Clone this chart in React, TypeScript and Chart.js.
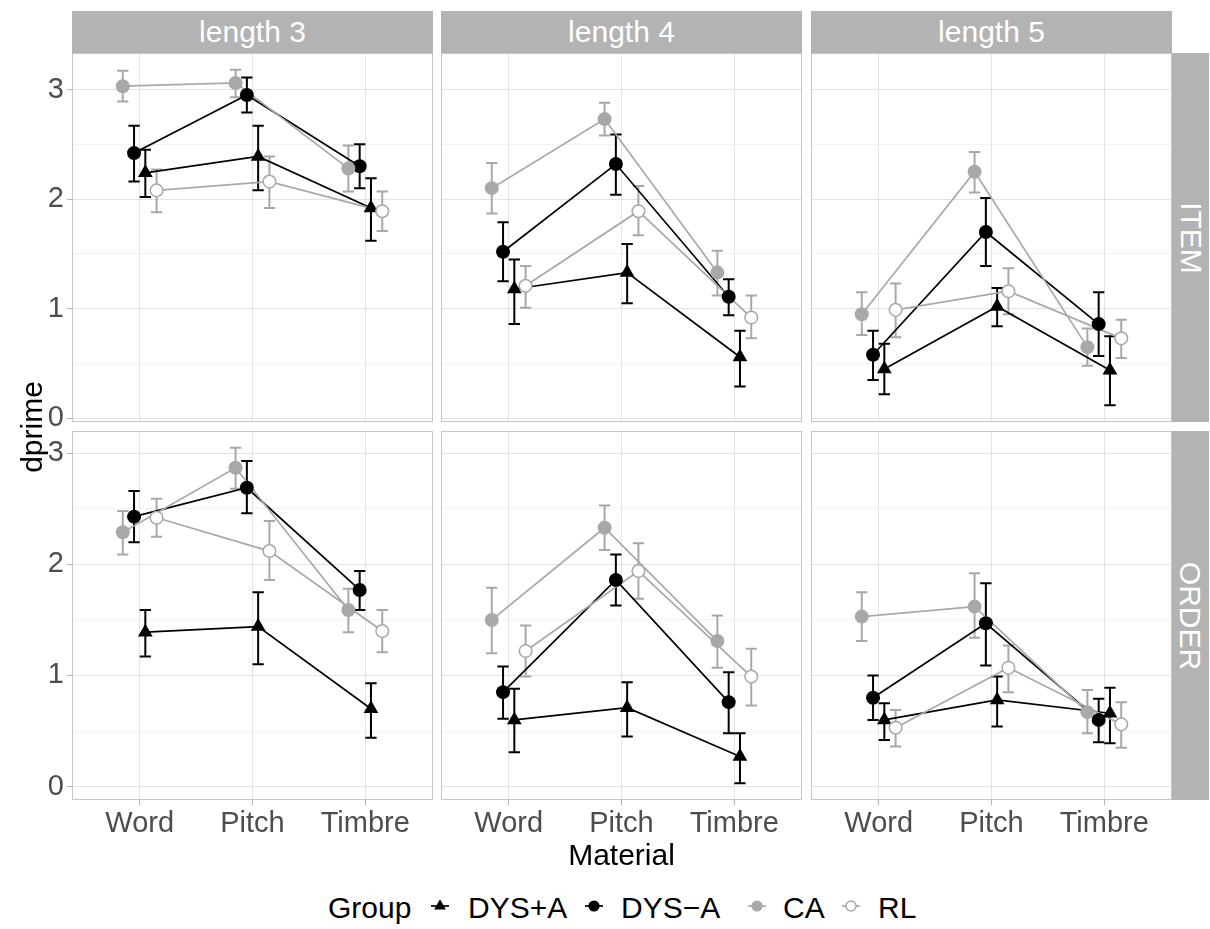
import React, { useEffect, useRef } from "react";
import { Chart, registerables } from "chart.js";

Chart.register(...registerables);

// ---------- labels ----------
const materials = ["Word", "Pitch", "Timbre"];
const lengthLabels = ["length 3", "length 4", "length 5"];
const taskLabels = ["ITEM", "ORDER"];
const groupLabels = ["DYS+A", "DYS\u2212A", "CA", "RL"];
const yTickValues = [0, 0.5, 1, 1.5, 2, 2.5, 3];
const yTickLabels = ["0", "", "1", "", "2", "", "3"];

// ---------- data: [length 3, length 4, length 5] x [Word, Pitch, Timbre] ----------
// ITEM task
const itemDysPlusMean = [[2.24, 2.39, 1.92], [1.18, 1.33, 0.56], [0.45, 1.02, 0.44]];
const itemDysPlusLow = [[2.02, 2.08, 1.62], [0.86, 1.05, 0.29], [0.22, 0.84, 0.12]];
const itemDysPlusHigh = [[2.45, 2.67, 2.19], [1.45, 1.59, 0.80], [0.68, 1.19, 0.75]];

const itemDysMinusMean = [[2.42, 2.95, 2.30], [1.52, 2.32, 1.11], [0.58, 1.70, 0.86]];
const itemDysMinusLow = [[2.16, 2.79, 2.10], [1.25, 2.04, 0.94], [0.35, 1.39, 0.57]];
const itemDysMinusHigh = [[2.67, 3.11, 2.50], [1.79, 2.59, 1.27], [0.80, 2.01, 1.15]];

const itemCaMean = [[3.03, 3.06, 2.28], [2.10, 2.73, 1.33], [0.95, 2.25, 0.65]];
const itemCaLow = [[2.89, 2.93, 2.07], [1.87, 2.58, 1.12], [0.76, 2.06, 0.48]];
const itemCaHigh = [[3.17, 3.18, 2.49], [2.33, 2.88, 1.53], [1.15, 2.43, 0.82]];

const itemRlMean = [[2.08, 2.16, 1.89], [1.21, 1.89, 0.92], [0.99, 1.16, 0.73]];
const itemRlLow = [[1.88, 1.92, 1.71], [1.01, 1.67, 0.73], [0.74, 0.95, 0.55]];
const itemRlHigh = [[2.27, 2.39, 2.07], [1.39, 2.12, 1.12], [1.23, 1.37, 0.90]];

// ORDER task
const orderDysPlusMean = [[1.39, 1.44, 0.70], [0.60, 0.71, 0.27], [0.60, 0.78, 0.66]];
const orderDysPlusLow = [[1.17, 1.10, 0.44], [0.31, 0.45, 0.03], [0.42, 0.54, 0.39]];
const orderDysPlusHigh = [[1.59, 1.75, 0.93], [0.88, 0.94, 0.48], [0.75, 0.99, 0.89]];

const orderDysMinusMean = [[2.43, 2.69, 1.77], [0.85, 1.86, 0.76], [0.80, 1.47, 0.60]];
const orderDysMinusLow = [[2.20, 2.46, 1.59], [0.61, 1.63, 0.48], [0.60, 1.09, 0.40]];
const orderDysMinusHigh = [[2.66, 2.93, 1.94], [1.08, 2.09, 1.03], [1.00, 1.83, 0.79]];

const orderCaMean = [[2.29, 2.87, 1.59], [1.50, 2.33, 1.31], [1.53, 1.62, 0.67]];
const orderCaLow = [[2.09, 2.68, 1.39], [1.20, 2.13, 1.07], [1.31, 1.34, 0.48]];
const orderCaHigh = [[2.48, 3.05, 1.78], [1.79, 2.53, 1.54], [1.75, 1.92, 0.87]];

const orderRlMean = [[2.42, 2.12, 1.40], [1.22, 1.94, 0.99], [0.53, 1.07, 0.56]];
const orderRlLow = [[2.25, 1.86, 1.21], [0.99, 1.69, 0.73], [0.36, 0.85, 0.35]];
const orderRlHigh = [[2.59, 2.39, 1.59], [1.45, 2.19, 1.24], [0.69, 1.27, 0.76]];

// [task][group][length][material]
const means = [
  [itemDysPlusMean, itemDysMinusMean, itemCaMean, itemRlMean],
  [orderDysPlusMean, orderDysMinusMean, orderCaMean, orderRlMean],
];
const lows = [
  [itemDysPlusLow, itemDysMinusLow, itemCaLow, itemRlLow],
  [orderDysPlusLow, orderDysMinusLow, orderCaLow, orderRlLow],
];
const highs = [
  [itemDysPlusHigh, itemDysMinusHigh, itemCaHigh, itemRlHigh],
  [orderDysPlusHigh, orderDysMinusHigh, orderCaHigh, orderRlHigh],
];

// ---------- layout / style ----------
const PANEL_W = 361;
const PANEL_H = 369;
const COL_LEFT = [72, 441, 811];
const ROW_TOP = [53, 431];
const PAD = 26;
const AXIS_W = 40;
const AXIS_H = 42;
const CAP = 0.05;
const GREY = "#a8a8a8";
const FONT = '"Liberation Sans", Arial, Helvetica, sans-serif';

const groupStyles = [
  { line: "#000000", fill: "#000000", border: "#000000", shape: "triangle", radius: 8.5, borderWidth: 0, dodge: 0.05 },
  { line: "#000000", fill: "#000000", border: "#000000", shape: "circle", radius: 7, borderWidth: 0, dodge: -0.05 },
  { line: GREY, fill: GREY, border: GREY, shape: "circle", radius: 7, borderWidth: 0, dodge: -0.15 },
  { line: GREY, fill: "#ffffff", border: GREY, shape: "circle", radius: 6.3, borderWidth: 1.5, dodge: 0.15 },
];

function rowRange(r: number): [number, number] {
  let lo = Infinity;
  let hi = -Infinity;
  lows[r].forEach((g) => g.forEach((l) => l.forEach((v) => (lo = Math.min(lo, v)))));
  highs[r].forEach((g) => g.forEach((l) => l.forEach((v) => (hi = Math.max(hi, v)))));
  const ext = (hi - lo) * 0.05;
  return [lo - ext, hi + ext];
}

const borderPlugin = {
  id: "panelBorder",
  afterDraw(chart: any) {
    const { ctx, chartArea: a } = chart;
    ctx.save();
    ctx.strokeStyle = "#c6c6c6";
    ctx.lineWidth = 1;
    ctx.strokeRect(a.left + 0.5, a.top + 0.5, a.width - 1, a.height - 1);
    ctx.restore();
  },
};

function Panel({ r, c }: { r: number; c: number }) {
  const ref = useRef<HTMLCanvasElement>(null);
  const extraL = c === 0 ? AXIS_W : 0;
  const extraB = r === 1 ? AXIS_H : 0;
  const w = PANEL_W + 2 * PAD + extraL;
  const h = PANEL_H + 2 * PAD + extraB;
  const left = COL_LEFT[c] - PAD - extraL;
  const top = ROW_TOP[r] - PAD;

  useEffect(() => {
    if (!ref.current) return;
    const datasets: any[] = [];
    for (let g = 0; g < groupLabels.length; g++) {
      const st = groupStyles[g];
      const mean = means[r][g][c];
      const lo = lows[r][g][c];
      const hi = highs[r][g][c];
      const pts = materials.map((_, i) => ({ x: i + 1 + st.dodge, y: mean[i] }));
      const err: any[] = [];
      materials.forEach((_, i) => {
        const x = i + 1 + st.dodge;
        err.push(
          { x, y: lo[i] }, { x, y: hi[i] }, { x, y: null },
          { x: x - CAP, y: lo[i] }, { x: x + CAP, y: lo[i] }, { x, y: null },
          { x: x - CAP, y: hi[i] }, { x: x + CAP, y: hi[i] }, { x, y: null }
        );
      });
      datasets.push({
        label: groupLabels[g] + " error",
        data: err,
        borderColor: st.line,
        borderWidth: 2,
        pointRadius: 0,
        spanGaps: false,
        fill: false,
        order: 200 + (3 - g),
      });
      datasets.push({
        label: groupLabels[g] + " line",
        data: pts,
        borderColor: st.line,
        borderWidth: 1.7,
        pointRadius: 0,
        fill: false,
        order: 100 + (3 - g),
      });
      datasets.push({
        label: groupLabels[g],
        data: pts,
        showLine: false,
        pointStyle: st.shape,
        pointRadius: st.radius,
        pointBackgroundColor: st.fill,
        pointBorderColor: st.border,
        pointBorderWidth: st.borderWidth,
        order: 3 - g,
      });
    }
    const [ymin, ymax] = rowRange(r);
    const chart = new Chart(ref.current, {
      type: "line",
      data: { datasets },
      plugins: [borderPlugin],
      options: {
        responsive: false,
        maintainAspectRatio: false,
        devicePixelRatio: 1,
        animation: false,
        layout: { padding: PAD },
        plugins: { legend: { display: false }, tooltip: { enabled: false }, title: { display: false } },
        scales: {
          x: {
            type: "linear",
            min: 0.4,
            max: 3.6,
            afterBuildTicks: (s: any) => {
              s.ticks = materials.map((_, i) => ({ value: i + 1 }));
            },
            afterFit: (s: any) => {
              s.height = r === 1 ? AXIS_H : 0;
            },
            ticks: {
              display: r === 1,
              autoSkip: false,
              maxRotation: 0,
              padding: 2,
              color: "#4d4d4d",
              font: { family: FONT, size: 29 },
              callback: (_v: any, i: number) => materials[i],
            },
            grid: {
              color: "#e3e3e3",
              lineWidth: 1,
              drawTicks: r === 1,
              tickLength: 5,
              tickColor: "#b3b3b3",
            },
            border: { display: false },
          },
          y: {
            type: "linear",
            min: ymin,
            max: ymax,
            afterBuildTicks: (s: any) => {
              s.ticks = yTickValues.map((v) => ({ value: v }));
            },
            afterFit: (s: any) => {
              s.width = c === 0 ? AXIS_W : 0;
            },
            ticks: {
              display: c === 0,
              autoSkip: false,
              padding: 3,
              color: "#4d4d4d",
              font: { family: FONT, size: 29 },
              callback: (_v: any, i: number) => yTickLabels[i],
            },
            grid: {
              color: (ctx: any) => (Number.isInteger(ctx.tick?.value) ? "#e3e3e3" : "#f2f2f2"),
              lineWidth: 1,
              drawTicks: c === 0,
              tickLength: 5,
              tickColor: (ctx: any) => (Number.isInteger(ctx.tick?.value) ? "#b3b3b3" : "rgba(0,0,0,0)"),
            },
            border: { display: false },
          },
        },
      } as any,
    });
    return () => chart.destroy();
  }, [r, c]);

  return (
    <canvas
      ref={ref}
      width={w}
      height={h}
      style={{ position: "absolute", left, top, width: w, height: h }}
    />
  );
}

function LegendKey({ g, cx }: { g: number; cx: number }) {
  const st = groupStyles[g];
  const cy = 906;
  const size = 24;
  const k = 0.8;
  let sym: React.ReactNode;
  if (st.shape === "triangle") {
    const rr = st.radius * k;
    const pts = [0, 1, 2]
      .map((j) => {
        const a = (j * 2 * Math.PI) / 3;
        return `${12 + Math.sin(a) * rr},${12 - Math.cos(a) * rr}`;
      })
      .join(" ");
    sym = <polygon points={pts} fill={st.fill} />;
  } else {
    sym = (
      <circle
        cx={12}
        cy={12}
        r={st.radius * k}
        fill={st.fill}
        stroke={st.borderWidth > 0 ? st.border : "none"}
        strokeWidth={st.borderWidth}
      />
    );
  }
  return (
    <svg
      width={size}
      height={size}
      style={{ position: "absolute", left: cx - size / 2, top: cy - size / 2 }}
    >
      <line x1={3} y1={12} x2={21} y2={12} stroke={st.line} strokeWidth={1.7} />
      {sym}
    </svg>
  );
}

export default function App() {
  const textBase: React.CSSProperties = {
    position: "absolute",
    fontFamily: FONT,
    fontSize: 30,
    lineHeight: "30px",
    whiteSpace: "nowrap",
  };
  const legendTextLeft = [468, 621, 783, 878];
  const legendKeyX = [440, 594, 757, 851];
  return (
    <div
      style={{
        position: "absolute",
        left: 0,
        top: 0,
        width: 1210,
        height: 929,
        background: "#ffffff",
        overflow: "hidden",
      }}
    >
      {/* top strips */}
      {lengthLabels.map((lab, c) => (
        <div
          key={lab}
          style={{
            ...textBase,
            left: COL_LEFT[c],
            top: 11,
            width: PANEL_W,
            height: 42,
            background: "#b3b3b3",
            color: "#ffffff",
            display: "flex",
            alignItems: "center",
            justifyContent: "center",
          }}
        >
          {lab}
        </div>
      ))}
      {/* right strips */}
      {taskLabels.map((lab, r) => (
        <div
          key={lab}
          style={{
            ...textBase,
            left: COL_LEFT[2] + PANEL_W,
            top: ROW_TOP[r],
            width: 37,
            height: PANEL_H,
            background: "#b3b3b3",
            color: "#ffffff",
            display: "flex",
            alignItems: "center",
            justifyContent: "center",
          }}
        >
          <div style={{ transform: "rotate(90deg)", lineHeight: "30px" }}>{lab}</div>
        </div>
      ))}
      {/* panels */}
      {[0, 1].map((r) => [0, 1, 2].map((c) => <Panel key={`${r}-${c}`} r={r} c={c} />))}
      {/* axis titles */}
      <div style={{ ...textBase, left: 0, top: 840, width: 1243, textAlign: "center", color: "#000" }}>
        Material
      </div>
      <div
        style={{
          ...textBase,
          left: 31.5 - 60,
          top: 426.5 - 15,
          width: 120,
          height: 30,
          textAlign: "center",
          color: "#000",
          transform: "rotate(-90deg)",
        }}
      >
        dprime
      </div>
      {/* legend */}
      <div style={{ ...textBase, left: 328, top: 892.6, color: "#000" }}>Group</div>
      {groupLabels.map((lab, g) => (
        <React.Fragment key={lab}>
          <LegendKey g={g} cx={legendKeyX[g]} />
          <div style={{ ...textBase, left: legendTextLeft[g], top: 892.6, color: "#000" }}>{lab}</div>
        </React.Fragment>
      ))}
    </div>
  );
}
